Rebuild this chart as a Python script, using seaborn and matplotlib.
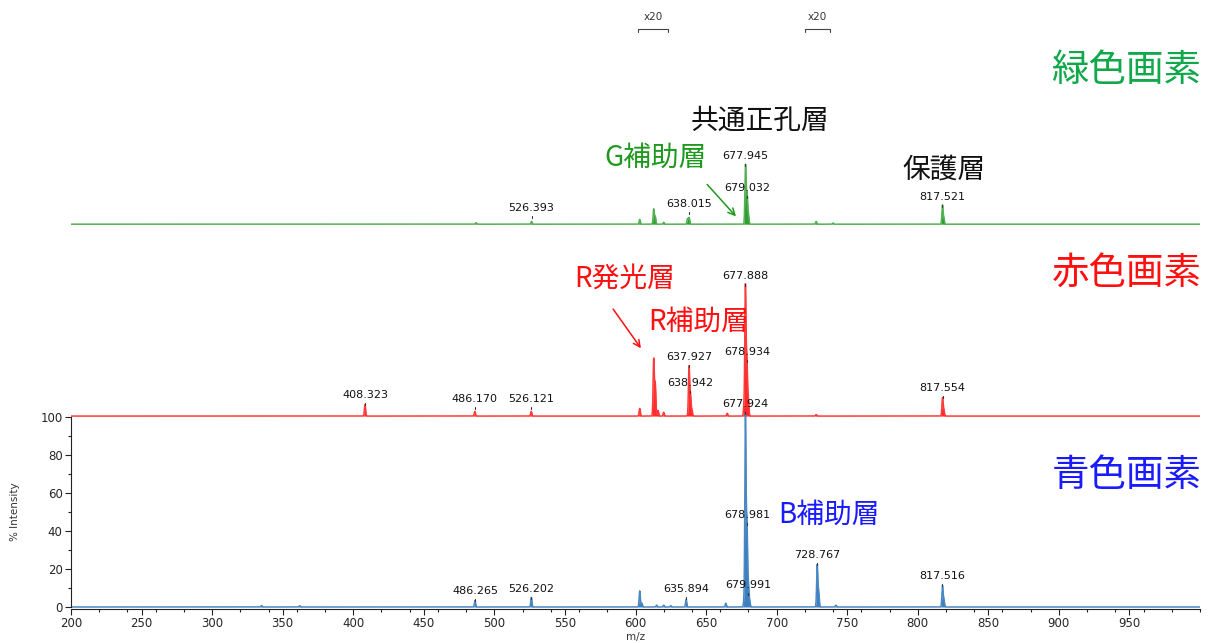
import numpy as np
import pandas as pd
import matplotlib
matplotlib.use("Agg")
import matplotlib.pyplot as plt
from matplotlib.ticker import MultipleLocator, FixedLocator
import seaborn as sns

# ---- peak lists (m/z, relative intensity) for each pixel colour ----
blue_mz = [335.0, 362.0, 486.265, 526.202, 603.0, 604.5, 615.0, 620.0, 625.0,
           635.894, 664.0, 676.9, 677.9, 678.981, 679.991, 680.9,
           728.767, 729.8, 742.0, 817.516, 818.5]
blue_int = [0.8, 0.7, 3.5, 5.0, 8.5, 2.0, 1.0, 1.0, 0.7,
            4.0, 2.0, 3.0, 100.0, 43.0, 11.0, 3.0,
            22.0, 8.0, 1.0, 11.0, 4.0]

red_mz = [408.323, 486.170, 526.121, 603.0, 612.9, 614.0, 616.0, 620.0,
          637.927, 638.942, 640.0, 665.0, 676.9, 677.888, 678.934, 679.95,
          728.0, 817.554, 818.5]
red_int = [6.0, 2.5, 2.5, 4.0, 30.0, 17.0, 3.0, 2.0,
           26.0, 11.0, 3.0, 1.5, 5.0, 68.0, 29.0, 9.0,
           0.8, 9.5, 3.0]

green_mz = [487.0, 526.393, 603.0, 612.9, 614.0, 620.0, 636.9, 638.015,
            677.945, 679.032, 680.0, 728.0, 740.0, 817.521, 818.5]
green_int = [0.8, 1.5, 2.5, 8.0, 4.0, 1.0, 3.0, 3.5,
             31.0, 16.0, 5.0, 1.5, 0.6, 10.0, 3.0]

# ---- labelled peaks: m/z text and label height above the trace baseline ----
blue_lbl_mz = [486.265, 526.202, 635.894, 678.981, 679.991, 728.767, 817.516]
blue_lbl_y = [8.4, 9.5, 9.5, 48.4, 11.6, 27.4, 16.3]
red_lbl_mz = [408.323, 486.170, 526.121, 637.927, 638.942, 677.888, 678.934, 677.924, 817.554]
red_lbl_y = [11.0, 9.0, 9.0, 31.0, 17.4, 73.7, 33.7, 6.3, 14.7]
green_lbl_mz = [526.393, 638.015, 677.945, 679.032, 817.521]
green_lbl_y = [8.4, 10.5, 35.8, 19.0, 14.2]

offsets = {"blue": 0.0, "red": 100.5, "green": 201.5}
colors = {"blue": "#3d7fbf", "red": "#ff2a2a", "green": "#2f9e2f"}
line_colors = {"blue": "#4a88c4", "red": "#ff3a3a", "green": "#55b055"}

x_major = [200, 250, 300, 350, 400, 450, 500, 550, 600, 650, 700, 750, 800, 850, 900, 950]
y_major = [0, 20, 40, 60, 80, 100]
y_minor = [10, 30, 50, 70, 90]

# x20 magnified windows
zoom_windows = [(602, 623), (720, 738)]

sns.set_theme(style="white")
plt.rcParams["font.family"] = ["Noto Sans CJK JP", "DejaVu Sans"]
num_font = ["DejaVu Sans"]

fig = plt.figure(figsize=(12.12, 6.43), dpi=100)
ax = fig.add_axes([71 / 1212, 1 - 609 / 643, (1200 - 71) / 1212, 609 / 643])

grid = np.arange(200.0, 1000.0, 0.1)


def profile(mz, inten, width=0.42):
    y = np.zeros_like(grid)
    for m, h in zip(mz, inten):
        y += h * np.exp(-0.5 * ((grid - m) / width) ** 2)
    return y


traces = {"blue": (blue_mz, blue_int), "red": (red_mz, red_int), "green": (green_mz, green_int)}
for name, (mz, inten) in traces.items():
    base = offsets[name]
    y = profile(mz, inten) + base
    df = pd.DataFrame({"mz": grid, "intensity": y})
    ax.fill_between(grid, base, y, color=colors[name], lw=0)
    sns.lineplot(data=df, x="mz", y="intensity", ax=ax, color=line_colors[name],
                 lw=1.1, estimator=None, sort=False)

labels = {"blue": (blue_lbl_mz, blue_lbl_y), "red": (red_lbl_mz, red_lbl_y),
          "green": (green_lbl_mz, green_lbl_y)}
for name, (mz, ly) in labels.items():
    base = offsets[name]
    for m, h in zip(mz, ly):
        ax.text(m, base + h, f"{m:.3f}", ha="center", va="center",
                fontsize=8, family=num_font, color="#111111")
        ax.plot([m, m], [base + h - 4.0, base + h - 5.2], color="#333333", lw=0.8)

# x20 brackets
for a, b in zoom_windows:
    ax.plot([a, a, b, b], [302.5, 304, 304, 302.5], color="#444444", lw=0.8, clip_on=False)
    ax.text((a + b) / 2, 310.5, "x20", ha="center", va="center", fontsize=7.5,
            family=num_font, color="#333333")

# annotations
big = 27
mid = 20
ax.text(1001.0, 282.6, "緑色画素", ha="right", va="center", fontsize=big, color="#10a84a")
ax.text(1001.0, 175.8, "赤色画素", ha="right", va="center", fontsize=big, color="#ff1010")
ax.text(1001.0, 69.0, "青色画素", ha="right", va="center", fontsize=big, color="#1a1aff")
ax.text(688.5, 256.0, "共通正孔層", ha="center", va="center", fontsize=mid, color="#111111")
ax.text(614.0, 236.5, "G補助層", ha="center", va="center", fontsize=mid, color="#1d9a1d")
ax.text(818.5, 230.0, "保護層", ha="center", va="center", fontsize=mid, color="#111111")
ax.text(592.0, 172.6, "R発光層", ha="center", va="center", fontsize=mid, color="#ff1010")
ax.text(645.0, 150.0, "R補助層", ha="center", va="center", fontsize=mid, color="#ff1010")
ax.text(737.0, 48.4, "B補助層", ha="center", va="center", fontsize=mid, color="#1a1aff")

ax.annotate("", xy=(672.5, 204.5), xytext=(649.5, 223.5),
            arrowprops=dict(arrowstyle="->", color="#1d9a1d", lw=1.1))
ax.annotate("", xy=(605.0, 135.0), xytext=(583.0, 158.0),
            arrowprops=dict(arrowstyle="->", color="#ff1010", lw=1.1))

# axes styling
ax.set_xlim(200, 1000)
ax.set_ylim(-1.05, 319.5)
ax.spines["top"].set_visible(False)
ax.spines["right"].set_visible(False)
for s in ("left", "bottom"):
    ax.spines[s].set_color("#222222")
    ax.spines[s].set_linewidth(0.8)
ax.spines["left"].set_bounds(0, 100)
ax.xaxis.set_major_locator(FixedLocator(x_major))
ax.xaxis.set_minor_locator(MultipleLocator(20))
ax.yaxis.set_major_locator(FixedLocator(y_major))
ax.yaxis.set_minor_locator(FixedLocator(y_minor))
ax.tick_params(axis="both", which="major", direction="out", length=4, width=0.8,
               color="#222222", labelsize=8.5, pad=2, bottom=True, left=True)
ax.tick_params(axis="both", which="minor", direction="out", length=2.5, width=0.8,
               color="#222222", bottom=True, left=True)
for lab in ax.get_xticklabels() + ax.get_yticklabels():
    lab.set_family(num_font)
ax.set_xlabel("")
ax.set_ylabel("")
ax.grid(False)

fig.text(15 / 1212, 1 - 512 / 643, "% Intensity", rotation=90, ha="center", va="center",
         fontsize=7.5, family=num_font, color="#333333")
ax.text(600, -16.0, "m/z", ha="center", va="center", fontsize=7.5, family=num_font,
        color="#333333", clip_on=False)

fig.savefig("out.png", dpi=100)
